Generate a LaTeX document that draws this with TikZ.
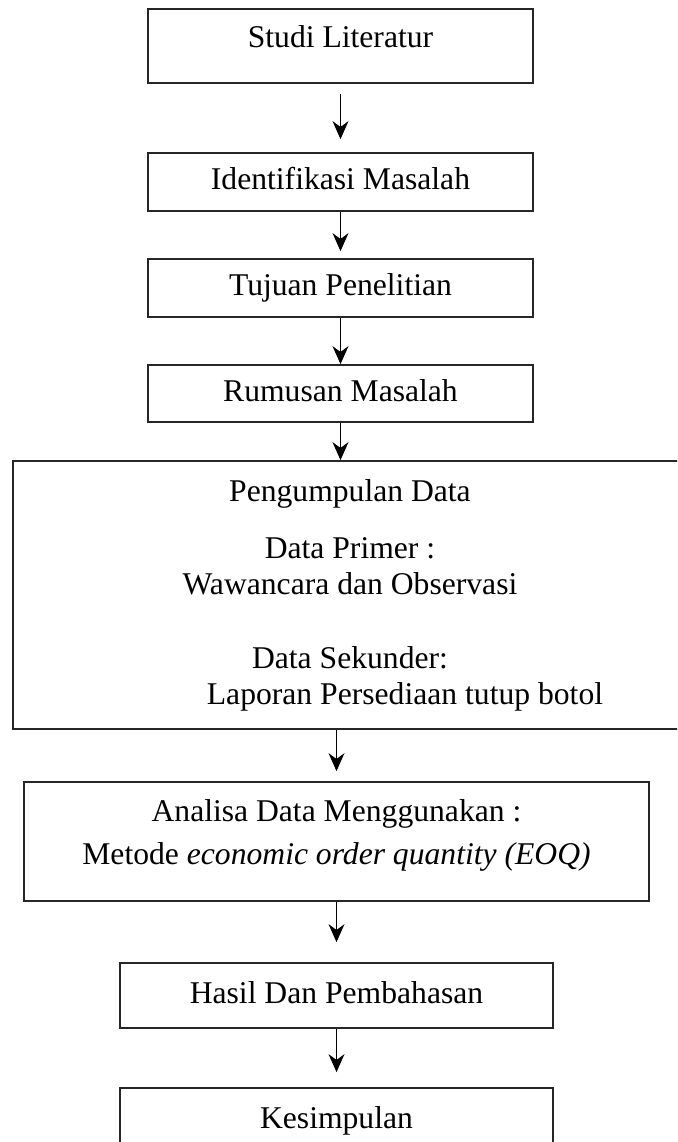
\documentclass[tikz,border=0pt]{standalone}
\usepackage{fontspec}
\setmainfont{Liberation Serif}
\usetikzlibrary{arrows.meta}

\begin{document}
\begin{tikzpicture}[
  box/.style={draw=black!85, line width=1pt, inner sep=0pt, align=center, font=\fontsize{18}{20.5}\selectfont},
  stepbox/.style={box, text height=12.6pt, text depth=4pt},
  arr/.style={-{Stealth[length=3.6mm, width=3.2mm]}, line width=0.7pt}
]
  \useasboundingbox (0,0) rectangle (13.54,-22.84);
  \clip (0,0) rectangle (13.54,-22.84);

  \node[stepbox, minimum width=7.7cm, minimum height=1.48cm, text depth=11.4pt] (studi) at (6.81,-0.92) {Studi Literatur};
  \node[stepbox, minimum width=7.7cm, minimum height=1.16cm] (identifikasi) at (6.81,-3.64) {Identifikasi Masalah};
  \node[stepbox, minimum width=7.7cm, minimum height=1.16cm] (tujuan) at (6.81,-5.76) {Tujuan Penelitian};
  \node[stepbox, minimum width=7.7cm, minimum height=1.14cm] (rumusan) at (6.81,-7.87) {Rumusan Masalah};

  \node[box, minimum width=13.48cm, minimum height=5.36cm] (data) at (7.00,-11.90) {
    Pengumpulan Data\\[11.9pt]
    Data Primer :\\
    Wawancara dan Observasi\\[21.6pt]
    Data Sekunder:\\
    \hspace*{2.2cm}Laporan Persediaan tutup botol
  };

  \node[box, minimum width=12.5cm, minimum height=2.38cm] (analisa) at (6.73,-16.83) {
    Analisa Data Menggunakan :\\[4pt]
    Metode \textit{economic order quantity (EOQ)}\rule[-11pt]{0pt}{0pt}
  };

  \node[stepbox, minimum width=8.66cm, minimum height=1.30cm] (hasil) at (6.73,-19.91) {Hasil Dan Pembahasan};
  \node[stepbox, minimum width=8.66cm, minimum height=1.30cm] (kesimpulan) at (6.73,-22.41) {Kesimpulan};

  % alur
  \draw[arr, shorten <=0.2cm, shorten >=0.26cm] (studi) -- (identifikasi);
  \draw[arr, shorten >=0.14cm] (identifikasi) -- (tujuan);
  \draw[arr] (tujuan) -- (rumusan);
  \draw[arr] (rumusan.south) -- (rumusan.south |- data.north);
  \draw[arr, shorten >=0.2cm] (data.south -| analisa.north) -- (analisa.north);
  \draw[arr, shorten >=0.4cm] (analisa) -- (hasil);
  \draw[arr, shorten >=0.3cm] (hasil) -- (kesimpulan);
\end{tikzpicture}
\end{document}
